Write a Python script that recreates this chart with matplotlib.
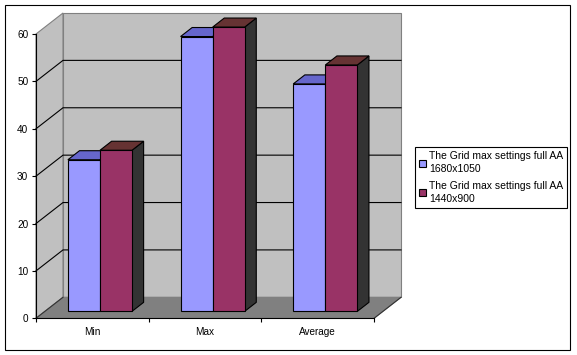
import matplotlib
matplotlib.use("Agg")
import matplotlib.pyplot as plt
from matplotlib.patches import Polygon, Patch, Rectangle

categories = ["Min", "Max", "Average"]
series_names = ["The Grid max settings full AA\n1680x1050", "The Grid max settings full AA\n1440x900"]
values_1680 = [32, 58, 48]
values_1440 = [34, 60, 52]
value_ticks = [0, 10, 20, 30, 40, 50, 60]

FRONT = ["#9999FF", "#993366"]
TOP = ["#6666CC", "#663333"]
SIDE = ["#4C4C80", "#333333"]
WALL, FLOOR, EDGE = "#C0C0C0", "#808080", "#808080"
W, H = 577, 355
LW = 0.8

plt.rcParams["font.family"] = ["Liberation Sans", "DejaVu Sans"]
fig = plt.figure(figsize=(W / 100, H / 100), dpi=100, facecolor="white")
ax = fig.add_axes([36 / W, 1 - 318.3 / H, 338 / W, 284.3 / H])
ax.set_xlim(0, len(categories))
ax.set_ylim(0, value_ticks[-1])
ax.patch.set_visible(False)

DX = 27 / (338 / 3)          # depth shift in category units
DY = 21 / (284.3 / 60)       # depth shift in value units


def p(x, y, z):
    return (x + z * DX, y + z * DY)


def poly(pts, fc, ec="black", zo=2, lw=LW):
    ax.add_patch(Polygon(pts, closed=True, facecolor=fc, edgecolor=ec, linewidth=lw,
                         zorder=zo, clip_on=False, joinstyle="miter"))


xmax, ymax = len(categories), value_ticks[-1]
poly([p(0, 0, 1), p(xmax, 0, 1), p(xmax, ymax, 1), p(0, ymax, 1)], WALL, EDGE, 1)
poly([p(0, 0, 0), p(0, 0, 1), p(0, ymax, 1), p(0, ymax, 0)], WALL, EDGE, 1)
poly([p(0, 0, 0), p(0, 0, 1), p(xmax, 0, 1), p(xmax, 0, 0)], FLOOR, FLOOR, 1)
ax.plot(*zip(p(xmax, 0, 0), p(xmax, 0, 1)), color="#333333", lw=LW, zorder=1.5, clip_on=False)
ax.plot(*zip(p(0, 0, 0), p(0, 0, 1)), color="#333333", lw=LW, zorder=1.5, clip_on=False)

for v in value_ticks[1:-1]:
    pts = [p(0, v, 0), p(0, v, 1), p(xmax, v, 1)]
    ax.plot(*zip(*pts), color="black", lw=LW, zorder=1.5, clip_on=False, solid_joinstyle="miter")

Z0, Z1 = 0.33, 0.76
BAR_W = 0.284
LEFTS = [0.204, 0.489]
for i in range(len(categories)):
    for s, vals in enumerate([values_1680, values_1440]):
        x0 = i + LEFTS[s]
        x1 = x0 + BAR_W
        v = vals[i]
        zo = 3 + s
        poly([p(x1, 0, Z0), p(x1, 0, Z1), p(x1, v, Z1), p(x1, v, Z0)], SIDE[s], zo=zo)
        poly([p(x0, v, Z0), p(x0, v, Z1), p(x1, v, Z1), p(x1, v, Z0)], TOP[s], zo=zo)
        poly([p(x0, 0, Z0), p(x1, 0, Z0), p(x1, v, Z0), p(x0, v, Z0)], FRONT[s], zo=zo)

for s in ["top", "right"]:
    ax.spines[s].set_visible(False)
for s in ["left", "bottom"]:
    ax.spines[s].set_linewidth(LW)
    ax.spines[s].set_zorder(2)

ax.set_yticks(value_ticks)
ax.set_xticks(range(len(categories) + 1))
ax.set_xticklabels([])
ax.set_xticks([i + 0.5 for i in range(len(categories))], categories, minor=True)
ax.tick_params(axis="x", which="minor", length=0, labelsize=7.2, pad=6.5)
ax.tick_params(axis="x", which="major", length=3, width=LW)
ax.tick_params(axis="y", length=3, width=LW, labelsize=7.2, pad=2.5)

handles = [Patch(facecolor=FRONT[i], edgecolor="black", linewidth=LW, label=series_names[i]) for i in range(2)]
leg = fig.legend(handles=handles, loc="upper left", bbox_to_anchor=(415.3 / W, 1 - 147.3 / H),
                 bbox_transform=fig.transFigure, borderaxespad=0, fontsize=7.45, frameon=True,
                 fancybox=False, edgecolor="black", framealpha=1, handlelength=0.62, handleheight=0.62,
                 handletextpad=0.35, borderpad=0.38, labelspacing=0.62)
leg.get_frame().set_linewidth(LW)
for t in leg.get_texts():
    t.set_linespacing(1.4)

fig.add_artist(Rectangle((4.5 / W, 1 - 349.5 / H), 565.5 / W, 345 / H, transform=fig.transFigure,
                         fill=False, edgecolor="black", linewidth=LW))

fig.savefig("out.png", dpi=100)
